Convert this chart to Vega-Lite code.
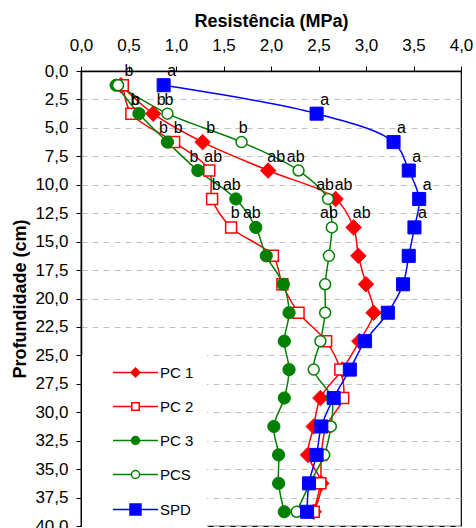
{
  "$schema": "https://vega.github.io/schema/vega-lite/v6.json",
  "width": 380,
  "height": 455,
  "autosize": {"type": "none"},
  "padding": {"left": 81, "top": 71, "right": 15, "bottom": 2},
  "background": "white",
  "config": {
    "font": "Liberation Sans",
    "view": {"stroke": "black", "strokeWidth": 1.2},
    "axis": {"labelFont": "Liberation Sans", "titleFont": "Liberation Sans", "labelColor": "black", "titleColor": "black", "tickColor": "black", "domainColor": "black", "domainWidth": 1.5, "tickSize": 5, "labelFontSize": 17, "titleFontSize": 18, "titleFontWeight": "bold", "labelOverlap": false, "labelFlush": false}
  },
  "data": {"values": [
    {"series": "PC 1", "depth": 1.25, "value": 0.42, "letter": "b"},
    {"series": "PC 1", "depth": 3.75, "value": 0.76, "letter": "b"},
    {"series": "PC 1", "depth": 6.25, "value": 1.28, "letter": "b"},
    {"series": "PC 1", "depth": 8.75, "value": 1.97, "letter": "ab"},
    {"series": "PC 1", "depth": 11.25, "value": 2.68, "letter": "ab"},
    {"series": "PC 1", "depth": 13.75, "value": 2.87, "letter": "ab"},
    {"series": "PC 1", "depth": 16.25, "value": 2.92},
    {"series": "PC 1", "depth": 18.75, "value": 3.0},
    {"series": "PC 1", "depth": 21.25, "value": 3.08},
    {"series": "PC 1", "depth": 23.75, "value": 2.93},
    {"series": "PC 1", "depth": 26.25, "value": 2.75},
    {"series": "PC 1", "depth": 28.75, "value": 2.52},
    {"series": "PC 1", "depth": 31.25, "value": 2.45},
    {"series": "PC 1", "depth": 33.75, "value": 2.39},
    {"series": "PC 1", "depth": 36.25, "value": 2.53},
    {"series": "PC 1", "depth": 38.75, "value": 2.45},
    {"series": "PC 2", "depth": 1.25, "value": 0.44},
    {"series": "PC 2", "depth": 3.75, "value": 0.53, "letter": "b"},
    {"series": "PC 2", "depth": 6.25, "value": 0.98, "letter": "b"},
    {"series": "PC 2", "depth": 8.75, "value": 1.35, "letter": "ab"},
    {"series": "PC 2", "depth": 11.25, "value": 1.38, "letter": "b"},
    {"series": "PC 2", "depth": 13.75, "value": 1.58, "letter": "b"},
    {"series": "PC 2", "depth": 16.25, "value": 2.02},
    {"series": "PC 2", "depth": 18.75, "value": 2.12},
    {"series": "PC 2", "depth": 21.25, "value": 2.29},
    {"series": "PC 2", "depth": 23.75, "value": 2.58},
    {"series": "PC 2", "depth": 26.25, "value": 2.73},
    {"series": "PC 2", "depth": 28.75, "value": 2.76},
    {"series": "PC 2", "depth": 31.25, "value": 2.58},
    {"series": "PC 2", "depth": 33.75, "value": 2.53},
    {"series": "PC 2", "depth": 36.25, "value": 2.52},
    {"series": "PC 2", "depth": 38.75, "value": 2.45},
    {"series": "PC 3", "depth": 1.25, "value": 0.37},
    {"series": "PC 3", "depth": 3.75, "value": 0.61, "letter": "b"},
    {"series": "PC 3", "depth": 6.25, "value": 0.91, "letter": "b"},
    {"series": "PC 3", "depth": 8.75, "value": 1.23, "letter": "b"},
    {"series": "PC 3", "depth": 11.25, "value": 1.63, "letter": "ab"},
    {"series": "PC 3", "depth": 13.75, "value": 1.84, "letter": "ab"},
    {"series": "PC 3", "depth": 16.25, "value": 1.95},
    {"series": "PC 3", "depth": 18.75, "value": 2.13},
    {"series": "PC 3", "depth": 21.25, "value": 2.19},
    {"series": "PC 3", "depth": 23.75, "value": 2.14},
    {"series": "PC 3", "depth": 26.25, "value": 2.19},
    {"series": "PC 3", "depth": 28.75, "value": 2.14},
    {"series": "PC 3", "depth": 31.25, "value": 2.03},
    {"series": "PC 3", "depth": 33.75, "value": 2.08},
    {"series": "PC 3", "depth": 36.25, "value": 2.08},
    {"series": "PC 3", "depth": 38.75, "value": 2.14},
    {"series": "PCS", "depth": 1.25, "value": 0.39},
    {"series": "PCS", "depth": 3.75, "value": 0.91, "letter": "b"},
    {"series": "PCS", "depth": 6.25, "value": 1.69, "letter": "b"},
    {"series": "PCS", "depth": 8.75, "value": 2.29, "letter": "ab"},
    {"series": "PCS", "depth": 11.25, "value": 2.6, "letter": "ab"},
    {"series": "PCS", "depth": 13.75, "value": 2.64, "letter": "ab"},
    {"series": "PCS", "depth": 16.25, "value": 2.61},
    {"series": "PCS", "depth": 18.75, "value": 2.57},
    {"series": "PCS", "depth": 21.25, "value": 2.57},
    {"series": "PCS", "depth": 23.75, "value": 2.52},
    {"series": "PCS", "depth": 26.25, "value": 2.45},
    {"series": "PCS", "depth": 28.75, "value": 2.64},
    {"series": "PCS", "depth": 31.25, "value": 2.63},
    {"series": "PCS", "depth": 33.75, "value": 2.56},
    {"series": "PCS", "depth": 36.25, "value": 2.41},
    {"series": "PCS", "depth": 38.75, "value": 2.27},
    {"series": "SPD", "depth": 1.25, "value": 0.87, "letter": "a"},
    {"series": "SPD", "depth": 3.75, "value": 2.48, "letter": "a"},
    {"series": "SPD", "depth": 6.25, "value": 3.29, "letter": "a"},
    {"series": "SPD", "depth": 8.75, "value": 3.45, "letter": "a"},
    {"series": "SPD", "depth": 11.25, "value": 3.56, "letter": "a"},
    {"series": "SPD", "depth": 13.75, "value": 3.51, "letter": "a"},
    {"series": "SPD", "depth": 16.25, "value": 3.45},
    {"series": "SPD", "depth": 18.75, "value": 3.39},
    {"series": "SPD", "depth": 21.25, "value": 3.23},
    {"series": "SPD", "depth": 23.75, "value": 2.99},
    {"series": "SPD", "depth": 26.25, "value": 2.83},
    {"series": "SPD", "depth": 28.75, "value": 2.66},
    {"series": "SPD", "depth": 31.25, "value": 2.53},
    {"series": "SPD", "depth": 33.75, "value": 2.48},
    {"series": "SPD", "depth": 36.25, "value": 2.4},
    {"series": "SPD", "depth": 38.75, "value": 2.38}
  ]},
  "encoding": {
    "x": {"field": "value", "type": "quantitative", "scale": {"domain": [0, 4], "nice": false, "zero": false},
      "axis": {"orient": "top", "title": "Resistência (MPa)", "values": [0, 0.5, 1, 1.5, 2, 2.5, 3, 3.5, 4], "labelExpr": "replace(format(datum.value, '.1f'), '.', ',')", "grid": false, "labelPadding": 12, "titlePadding": 6}},
    "y": {"field": "depth", "type": "quantitative", "scale": {"domain": [0, 40], "reverse": true, "nice": false, "zero": false},
      "axis": {"title": "Profundidade (cm)", "values": [0, 2.5, 5, 7.5, 10, 12.5, 15, 17.5, 20, 22.5, 25, 27.5, 30, 32.5, 35, 37.5, 40], "labelExpr": "replace(format(datum.value, '.1f'), '.', ',')", "grid": true, "gridDash": [6, 5], "gridColor": "#c0c0c0", "gridWidth": 1, "labelPadding": 8, "titlePadding": 5}}
  },
  "layer": [
    {
      "mark": {"type": "line", "interpolate": "catmull-rom", "strokeWidth": 1.5},
      "encoding": {
        "stroke": {"field": "series", "type": "nominal",
          "scale": {"domain": ["PC 1", "PC 2", "PC 3", "PCS", "SPD"], "range": ["#ff0000", "#ff0000", "#008000", "#008000", "#0000ff"]},
          "legend": {
            "orient": "none", "legendX": 1, "legendY": 284, "title": " ", "titleOrient": "right", "titlePadding": 4, "titleFontSize": 10, "fillColor": "white", "padding": 10,
            "symbolOffset": 36, "labelOffset": 17, "rowPadding": 18, "labelFontSize": 15, "labelFont": "Liberation Sans", "labelColor": "black", "labelBaseline": "middle",
            "symbolSize": 100, "symbolStrokeWidth": 1.5,
            "encode": {"symbols": {"update": {
              "shape": {"signal": "datum.value === 'PC 1' ? 'M-4.5,0H4.5M0,-0.9L0.9,0L0,0.9L-0.9,0Z' : datum.value === 'PC 2' ? 'M-4.5,0H-0.75M0.75,0H4.5M-0.75,-0.75H0.75V0.75H-0.75Z' : datum.value === 'PC 3' ? 'M-4.5,0H4.5M0.8,0A0.8,0.8,0,1,1,-0.8,0A0.8,0.8,0,1,1,0.8,0Z' : datum.value === 'PCS' ? 'M-4.5,0H-0.8M0.8,0H4.5M0.8,0A0.8,0.8,0,1,1,-0.8,0A0.8,0.8,0,1,1,0.8,0Z' : 'M-4.5,0H4.5M-1.1,-1.1H1.1V1.1H-1.1Z'"},
              "fill": {"signal": "datum.value === 'PC 1' ? '#ff0000' : datum.value === 'PC 3' ? '#008000' : datum.value === 'SPD' ? '#0000ff' : '#ffffff'"},
              "stroke": {"signal": "datum.value === 'SPD' ? '#0000ff' : (datum.value === 'PC 3' || datum.value === 'PCS') ? '#008000' : '#ff0000'"},
              "size": {"value": 100},
              "strokeWidth": {"value": 1.5},
              "opacity": {"value": 1}
            }}}
          }},
        "order": {"field": "depth", "type": "quantitative"}
      }
    },
    {
      "transform": [{"filter": "datum.series === 'PC 1'"}],
      "mark": {"type": "point", "shape": "diamond", "size": 240, "filled": true, "fill": "#ff0000", "stroke": "#ff0000", "strokeWidth": 1, "opacity": 1}
    },
    {
      "transform": [{"filter": "datum.series === 'PC 2'"}],
      "mark": {"type": "point", "shape": "square", "size": 120, "filled": true, "fill": "#ffffff", "stroke": "#ff0000", "strokeWidth": 1.5, "opacity": 1}
    },
    {
      "transform": [{"filter": "datum.series === 'PC 3'"}],
      "mark": {"type": "point", "shape": "circle", "size": 150, "filled": true, "fill": "#008000", "stroke": "#008000", "strokeWidth": 1, "opacity": 1}
    },
    {
      "transform": [{"filter": "datum.series === 'PCS'"}],
      "mark": {"type": "point", "shape": "circle", "size": 120, "filled": true, "fill": "#ffffff", "stroke": "#008000", "strokeWidth": 1.5, "opacity": 1}
    },
    {
      "transform": [{"filter": "datum.series === 'SPD'"}],
      "mark": {"type": "point", "shape": "square", "size": 170, "filled": true, "fill": "#0000ff", "stroke": "#0000ff", "strokeWidth": 1, "opacity": 1}
    },
    {
      "transform": [{"filter": "isValid(datum.letter) && (datum.series === 'PC 1' || datum.series === 'SPD')"}],
      "mark": {"type": "text", "align": "center", "baseline": "alphabetic", "dx": 8, "dy": -9, "fontSize": 16, "font": "Liberation Sans", "color": "black"},
      "encoding": {"text": {"field": "letter"}}
    },
    {
      "transform": [{"filter": "isValid(datum.letter) && datum.series === 'PC 2'"}],
      "mark": {"type": "text", "align": "center", "baseline": "alphabetic", "dx": 4, "dy": -9, "fontSize": 16, "font": "Liberation Sans", "color": "black"},
      "encoding": {"text": {"field": "letter"}}
    },
    {
      "transform": [{"filter": "isValid(datum.letter) && datum.series === 'PC 3'"}],
      "mark": {"type": "text", "align": "center", "baseline": "alphabetic", "dx": -4, "dy": -9, "fontSize": 16, "font": "Liberation Sans", "color": "black"},
      "encoding": {"text": {"field": "letter"}}
    },
    {
      "transform": [{"filter": "isValid(datum.letter) && datum.series === 'PCS'"}],
      "mark": {"type": "text", "align": "right", "baseline": "alphabetic", "dx": 6, "dy": -9, "fontSize": 16, "font": "Liberation Sans", "color": "black"},
      "encoding": {"text": {"field": "letter"}}
    }
  ]
}
